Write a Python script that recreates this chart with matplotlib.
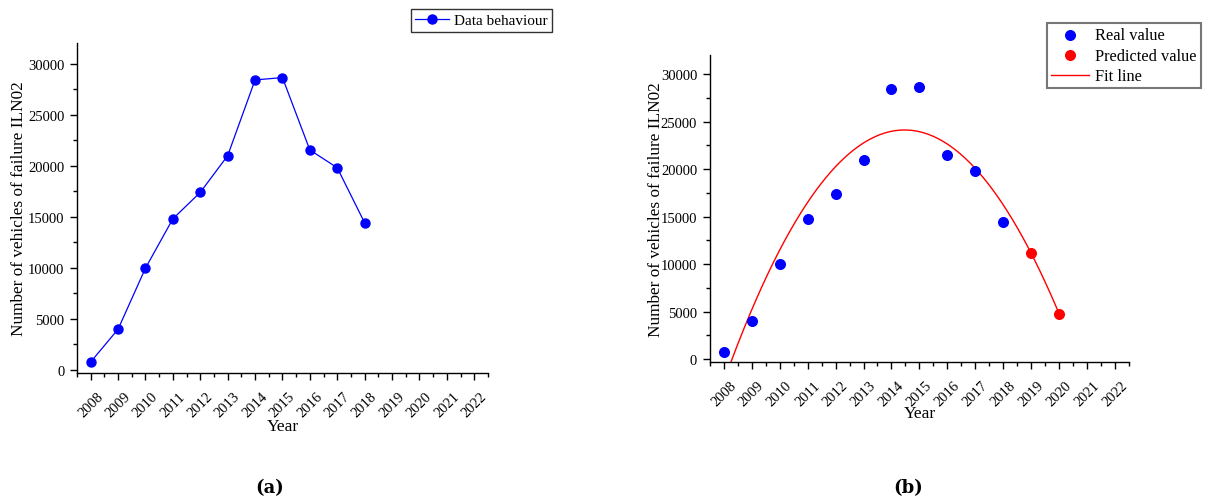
import numpy as np
import matplotlib
matplotlib.use("Agg")
import matplotlib.pyplot as plt
from matplotlib.ticker import MultipleLocator

plt.rcParams['font.family'] = ['Liberation Serif', 'DejaVu Serif']

# Observed failures per year
years = [2008, 2009, 2010, 2011, 2012, 2013, 2014, 2015, 2016, 2017, 2018]
failures = [780, 3990, 9970, 14800, 17390, 20980, 28400, 28630, 21540, 19800, 14410]

# Forecast years and predicted counts
pred_years = [2019, 2020]
pred_values = [11130, 4760]

tick_years = list(range(2008, 2023))
ylabel = "Number of vehicles of failure ILN02"

fig = plt.figure(figsize=(12.05, 5.02), dpi=100)
ax1 = fig.add_axes([0.0639, 0.255, 0.341, 0.657])
ax2 = fig.add_axes([0.589, 0.277, 0.348, 0.611])


def style_axes(ax):
    for s in ("top", "right"):
        ax.spines[s].set_visible(False)
    for s in ("left", "bottom"):
        ax.spines[s].set_linewidth(1.0)
    ax.set_xlim(2007.5, 2022.5)
    ax.set_ylim(-300, 32000)
    ax.set_xticks(tick_years)
    ax.set_xticklabels([str(y) for y in tick_years], rotation=45,
                       ha="center", va="top", fontsize=10.5)
    ax.xaxis.set_minor_locator(MultipleLocator(0.5))
    ax.yaxis.set_major_locator(MultipleLocator(5000))
    ax.yaxis.set_minor_locator(MultipleLocator(2500))
    ax.tick_params(axis="both", which="major", direction="out", length=5,
                   width=1.0, labelsize=10.5)
    ax.tick_params(axis="x", which="major", pad=7)
    ax.tick_params(axis="y", which="major", pad=4)
    ax.tick_params(axis="both", which="minor", direction="out", length=3,
                   width=1.0)
    ax.set_xlabel("Year", fontsize=12.5)
    ax.set_ylabel(ylabel, fontsize=12.4)


# (a) raw yearly counts
style_axes(ax1)
ax1.plot(years, failures, color="blue", lw=0.9, marker="o", ms=6.5,
         label="Data behaviour")
ax1.xaxis.set_label_coords(0.5, -0.135)
ax1.yaxis.set_label_coords(-0.122, 0.5)
fig.legend(handles=ax1.get_lines(), loc="upper right",
           bbox_to_anchor=(0.458, 0.980), fontsize=11, frameon=True,
           fancybox=False, edgecolor="black", borderpad=0.3,
           handlelength=2.2, handletextpad=0.3, borderaxespad=0)

# (b) quadratic fit with forecast
style_axes(ax2)
coef = np.polyfit(years, failures, 2)
xs = np.linspace(2008, 2020, 300)
fit_line, = ax2.plot(xs, np.polyval(coef, xs), color="red", lw=1.0,
                     label="Fit line")
real = ax2.scatter(years, failures, color="blue", s=48, zorder=3,
                   label="Real value")
pred = ax2.scatter(pred_years, pred_values, color="red", s=48, zorder=3,
                   label="Predicted value")
ax2.xaxis.set_label_coords(0.5, -0.14)
ax2.yaxis.set_label_coords(-0.109, 0.5)
leg2 = fig.legend(handles=[real, pred, fit_line], loc="upper right",
                  bbox_to_anchor=(0.9967, 0.952), fontsize=11.8, frameon=True,
                  fancybox=False, edgecolor="#555555", borderpad=0.25,
                  handlelength=2.3, handletextpad=0.4, labelspacing=0.28,
                  borderaxespad=0)
leg2.get_frame().set_linewidth(1.5)

fig.text(0.2237, 0.027, "(a)", fontsize=13, fontweight="bold",
         family="DejaVu Serif", ha="center", va="center")
fig.text(0.754, 0.027, "(b)", fontsize=13, fontweight="bold",
         family="DejaVu Serif", ha="center", va="center")

fig.savefig("out.png", dpi=100)
